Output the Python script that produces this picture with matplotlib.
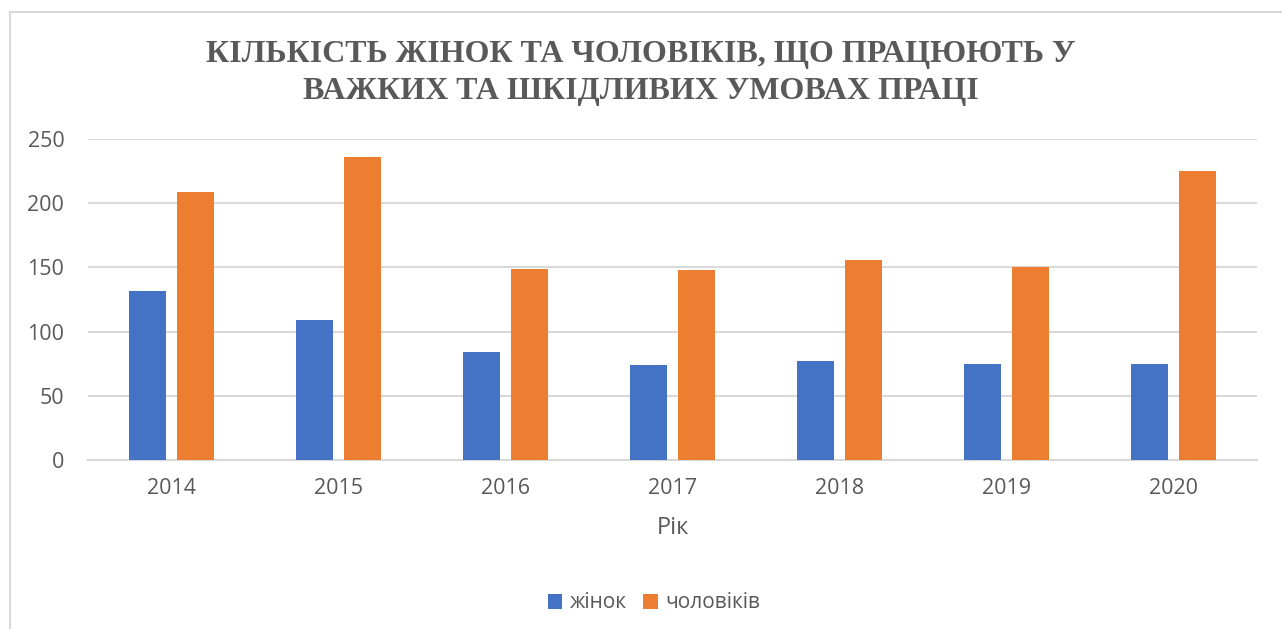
import numpy as np
import matplotlib.pyplot as plt
import matplotlib.patches as patches

# дані
years = ['2014', '2015', '2016', '2017', '2018', '2019', '2020']
women = [132, 109, 84, 74, 77, 75, 75]
men = [209, 236, 149, 148, 156, 150, 225]
yticks = [0, 50, 100, 150, 200, 250]

title = 'КІЛЬКІСТЬ ЖІНОК ТА ЧОЛОВІКІВ, ЩО ПРАЦЮЮТЬ У\nВАЖКИХ ТА ШКІДЛИВИХ УМОВАХ ПРАЦІ'

plt.rcParams['font.family'] = ['Open Sans', 'DejaVu Sans']
text_color = '#595959'
grid_color = '#d9d9d9'

fig = plt.figure(figsize=(12.82, 6.29), dpi=100)
ax = fig.add_axes([0.0686, 0.2687, 0.9119, 0.5103])

x = np.arange(len(years))
w = 0.22
off = 0.143
ax.bar(x - off, women, w, color='#4472c4', label='жінок', zorder=3)
ax.bar(x + off, men, w, color='#ed7d31', label='чоловіків', zorder=3)

ax.set_xlim(-0.5, len(years) - 0.5)
ax.set_ylim(0, 250)
ax.set_yticks(yticks)
ax.set_xticks(x)
ax.set_xticklabels(years)
ax.yaxis.grid(True, color=grid_color, linewidth=1.5, zorder=0)
ax.set_axisbelow(True)
for s in ['top', 'right', 'left']:
    ax.spines[s].set_visible(False)
ax.spines['bottom'].set_color(grid_color)
ax.spines['bottom'].set_linewidth(1.5)
ax.tick_params(axis='both', length=0, labelsize=15.5, colors=text_color)
ax.tick_params(axis='x', pad=13)
ax.tick_params(axis='y', pad=17)

ax.set_xlabel('Рік', fontsize=17, color=text_color, labelpad=12)

fig.text(0.5, 0.884, title, ha='center', va='center', fontsize=23,
         fontweight='bold', color=text_color, family='Liberation Serif',
         linespacing=1.38)

ax.legend(loc='center', bbox_to_anchor=(654 / 1282, 1 - 603 / 629),
          bbox_transform=fig.transFigure, ncol=2, frameon=False,
          fontsize=15, labelcolor=text_color, handlelength=0.7,
          handleheight=0.7, columnspacing=0.8, handletextpad=0.35)

# рамка діаграми
frame = patches.Rectangle((10 / 1282, -0.05), 1.1, 1 - 12 / 629 + 0.05,
                          transform=fig.transFigure, fill=False,
                          edgecolor=grid_color, linewidth=1.5)
fig.patches.append(frame)

fig.savefig('out.png', dpi=100)
